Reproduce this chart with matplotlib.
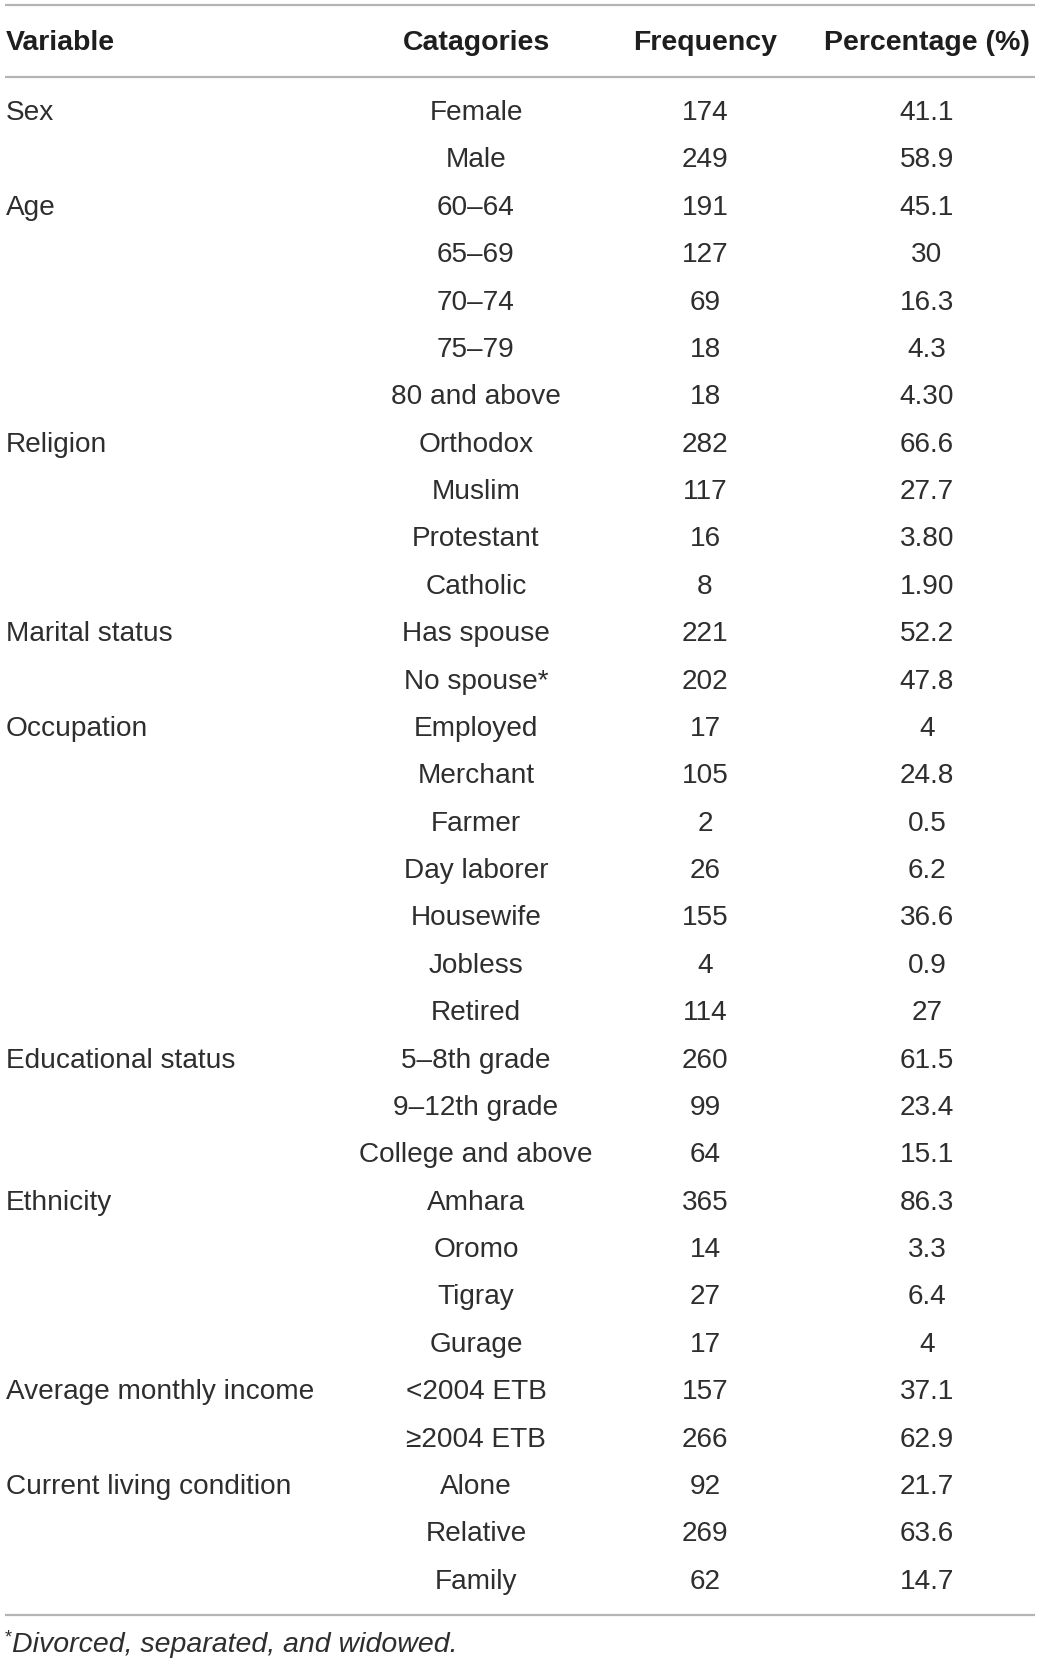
import matplotlib
matplotlib.use("Agg")
import matplotlib.pyplot as plt

# table content
headers = ["Variable", "Catagories", "Frequency", "Percentage (%)"]
variables = ["Sex", "", "Age", "", "", "", "", "Religion", "", "", "",
             "Marital status", "", "Occupation", "", "", "", "", "", "",
             "Educational status", "", "", "Ethnicity", "", "", "",
             "Average monthly income", "", "Current living condition", "", ""]
categories = ["Female", "Male", "60\u201364", "65\u201369", "70\u201374", "75\u201379",
              "80 and above", "Orthodox", "Muslim", "Protestant", "Catholic",
              "Has spouse", "No spouse*", "Employed", "Merchant", "Farmer",
              "Day laborer", "Housewife", "Jobless", "Retired",
              "5\u20138th grade", "9\u201312th grade", "College and above",
              "Amhara", "Oromo", "Tigray", "Gurage",
              "<2004 ETB", "\u22652004 ETB", "Alone", "Relative", "Family"]
frequencies = [174, 249, 191, 127, 69, 18, 18, 282, 117, 16, 8, 221, 202,
               17, 105, 2, 26, 155, 4, 114, 260, 99, 64, 365, 14, 27, 17,
               157, 266, 92, 269, 62]
percentages = ["41.1", "58.9", "45.1", "30", "16.3", "4.3", "4.30", "66.6",
               "27.7", "3.80", "1.90", "52.2", "47.8", "4", "24.8", "0.5",
               "6.2", "36.6", "0.9", "27", "61.5", "23.4", "15.1", "86.3",
               "3.3", "6.4", "4", "37.1", "62.9", "21.7", "63.6", "14.7"]
footnote = "Divorced, separated, and widowed."

W, H = 1040, 1663
fig = plt.figure(figsize=(W / 100, H / 100), dpi=100)
ax = fig.add_axes([0, 0, 1, 1])
ax.set_xlim(0, W)
ax.set_ylim(H, 0)
ax.axis("off")

FONT = "Liberation Sans"
TXT = "#2e2e2e"
LINE = "#b4b4b4"
col_x = [6, 476, 705, 927]
col_ha = ["left", "center", "center", "center"]

# rules
for y in (5, 77, 1615):
    ax.plot([5, 1035], [y, y], color=LINE, lw=1.6, solid_capstyle="butt")

# header
for x, ha, h in zip(col_x, col_ha, headers):
    ax.text(x, 43, h, ha=ha, va="center", fontsize=20.5, fontweight="bold",
            family=FONT, color="#1e1e1e")

# body rows
y0, dy = 113, 47.38
for i, (v, c, f, p) in enumerate(zip(variables, categories, frequencies, percentages)):
    y = y0 + i * dy
    for x, ha, s in zip(col_x, col_ha, [v, c, str(f), p]):
        ax.text(x, y, s, ha=ha, va="center", fontsize=20.2, family=FONT,
                color=TXT)

# footnote with small raised asterisk
ax.text(5, 1638, "*", ha="left", va="center", fontsize=13, family=FONT,
        color=TXT)
ax.text(12, 1645, footnote, ha="left", va="center", fontsize=20.5,
        style="italic", family=FONT, color=TXT)

fig.savefig("out.png", dpi=100)
